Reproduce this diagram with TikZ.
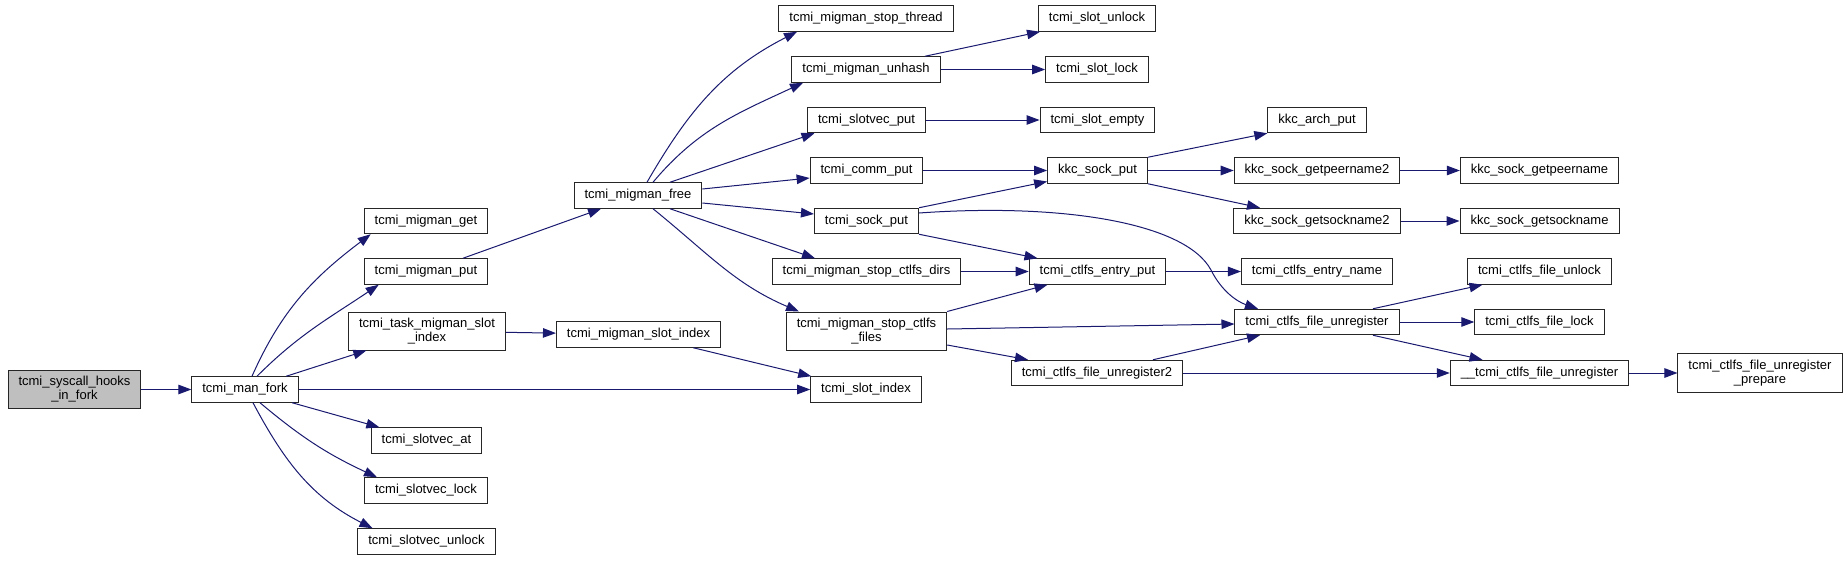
\documentclass[tikz,border=0pt]{standalone}
\usepackage{fontspec}
\setmainfont{Liberation Sans}
\usetikzlibrary{arrows.meta}
\definecolor{edgeblue}{HTML}{191970}
\definecolor{rootgray}{HTML}{BFBFBF}
\tikzset{
  fn/.style={draw=black!85, line width=1pt, fill=white, align=center, font=\fontsize{13}{14}\selectfont, inner xsep=10.5pt, inner ysep=6pt, minimum height=25.5pt},
  root/.style={fn, fill=rootgray},
  call/.style={-{Triangle[length=13pt,width=9.5pt]}, draw=edgeblue, line width=1pt}}

\begin{document}
\begin{tikzpicture}[x=1pt, y=-1pt]
  \useasboundingbox (0,0) rectangle (1848,560);
  % columns of the call graph
  \node[root] (hooks) at (74.5,389.5) {tcmi\_syscall\_hooks\\\_in\_fork};
  \node[fn] (fork) at (245,389.5) {tcmi\_man\_fork};
  \node[fn] (mget) at (426,221) {tcmi\_migman\_get};
  \node[fn] (mput) at (426,271.5) {tcmi\_migman\_put};
  \node[fn] (taskslot) at (427,331) {tcmi\_task\_migman\_slot\\\_index};
  \node[fn] (vat) at (426.5,440.5) {tcmi\_slotvec\_at};
  \node[fn] (vlock) at (426,490.5) {tcmi\_slotvec\_lock};
  \node[fn] (vunlock) at (426.5,541.5) {tcmi\_slotvec\_unlock};
  \node[fn] (mfree) at (638,195.5) {tcmi\_migman\_free};
  \node[fn] (mslot) at (638.5,334.5) {tcmi\_migman\_slot\_index};
  \node[fn] (sthread) at (866,18.5) {tcmi\_migman\_stop\_thread};
  \node[fn] (unhash) at (866,69.5) {tcmi\_migman\_unhash};
  \node[fn] (vput) at (866.5,120) {tcmi\_slotvec\_put};
  \node[fn] (cput) at (866.5,170.5) {tcmi\_comm\_put};
  \node[fn] (sput) at (866.5,221) {tcmi\_sock\_put};
  \node[fn] (sdirs) at (866.5,271.5) {tcmi\_migman\_stop\_ctlfs\_dirs};
  \node[fn] (sfiles) at (866.5,331) {tcmi\_migman\_stop\_ctlfs\\\_files};
  \node[fn] (sidx) at (866,389.5) {tcmi\_slot\_index};
  \node[fn] (sunlock) at (1097,18.5) {tcmi\_slot\_unlock};
  \node[fn] (slock) at (1097,69.5) {tcmi\_slot\_lock};
  \node[fn] (sempty) at (1097.5,120) {tcmi\_slot\_empty};
  \node[fn] (kput) at (1097.5,170.5) {kkc\_sock\_put};
  \node[fn] (eput) at (1097.5,271.5) {tcmi\_ctlfs\_entry\_put};
  \node[fn] (unreg2) at (1097,373) {tcmi\_ctlfs\_file\_unregister2};
  \node[fn] (aput) at (1317,120) {kkc\_arch\_put};
  \node[fn] (peer2) at (1317,170.5) {kkc\_sock\_getpeername2};
  \node[fn] (sock2) at (1317,221) {kkc\_sock\_getsockname2};
  \node[fn] (ename) at (1317,271.5) {tcmi\_ctlfs\_entry\_name};
  \node[fn] (unreg) at (1317,322) {tcmi\_ctlfs\_file\_unregister};
  \node[fn] (peer) at (1539.5,170.5) {kkc\_sock\_getpeername};
  \node[fn] (sock) at (1539.5,221) {kkc\_sock\_getsockname};
  \node[fn] (funlock) at (1539.5,271.5) {tcmi\_ctlfs\_file\_unlock};
  \node[fn] (flock) at (1539.5,322) {tcmi\_ctlfs\_file\_lock};
  \node[fn] (uunreg) at (1539.5,373) {\_\_tcmi\_ctlfs\_file\_unregister};
  \node[fn] (prep) at (1760,373) {tcmi\_ctlfs\_file\_unregister\\\_prepare};

  % calls out of tcmi_man_fork
  \draw[call] (hooks) -- (fork);
  \draw[call] ([xshift=7pt]fork.north) to[out=66,in=217] ([xshift=7pt]mget.south west);
  \draw[call] ([xshift=12pt]fork.north) to[out=45,in=214] ([xshift=15pt]mput.south west);
  \draw[call] (fork) -- (taskslot);
  \draw[call] (fork) -- (sidx);
  \draw[call] (fork) -- (vat);
  \draw[call] ([xshift=15pt]fork.south) to[out=-40,in=155] ([xshift=-49pt]vlock.north);
  \draw[call] ([xshift=8pt]fork.south) to[out=-62,in=153] ([xshift=-54pt]vunlock.north);
  \draw[call] (mput) -- (mfree);
  \draw[call] (taskslot) -- (mslot);
  \draw[call] (mslot) -- (sidx);

  % calls out of tcmi_migman_free
  \draw[call] ([xshift=9pt]mfree.north) to[out=60,in=207] ([xshift=-69pt]sthread.south);
  \draw[call] ([xshift=15pt]mfree.north) to[out=50,in=205] ([xshift=-63pt]unhash.south);
  \draw[call] ([xshift=32pt]mfree.north) -- ([xshift=-52pt]vput.south);
  \draw[call] ([yshift=6.5pt]mfree.east) -- ([yshift=-7.5pt]cput.west);
  \draw[call] ([yshift=-7.5pt]mfree.east) -- ([yshift=7pt]sput.west);
  \draw[call] ([xshift=32pt]mfree.south) -- ([xshift=-51.5pt]sdirs.north);
  \draw[call] ([xshift=15pt]mfree.south) to[out=-39,in=157] ([xshift=-67.5pt]sfiles.north);

  \draw[call] ([xshift=59pt]unhash.north) -- ([xshift=-57pt]sunlock.south);
  \draw[call] (unhash) -- (slock);
  \draw[call] (vput) -- (sempty);
  \draw[call] (cput) -- (kput);
  \draw[call] (sput.north east) -- ([yshift=-11pt]kput.west);
  \draw[call] (sput.south east) -- ([xshift=-60pt]eput.north);
  \draw[call] ([yshift=8pt]sput.east) .. controls (1060,203) and (1185,222) .. (1211,270)
    .. controls (1222,292) and (1238,302) .. ([xshift=-59pt]unreg.north);
  \draw[call] (sdirs) -- (eput);
  \draw[call] (sfiles.north east) -- ([xshift=-50pt]eput.south);
  \draw[call] ([yshift=2pt]sfiles.east) -- ([yshift=-2pt]unreg.west);
  \draw[call] ([yshift=-14pt]sfiles.east) -- ([xshift=-69pt]unreg2.north);
  \draw[call] (eput) -- (ename);
  \draw[call] ([xshift=56pt]unreg2.north) -- ([xshift=-57pt]unreg.south);
  \draw[call] (unreg2) -- (uunreg);

  % kkc sockets and ctlfs files
  \draw[call] (kput.north east) -- (aput.south west);
  \draw[call] (kput) -- (peer2);
  \draw[call] (kput.south east) -- ([xshift=-57pt]sock2.north);
  \draw[call] (peer2) -- (peer);
  \draw[call] (sock2) -- (sock);
  \draw[call] ([xshift=56pt]unreg.north) -- ([xshift=-57pt]funlock.south);
  \draw[call] (unreg) -- (flock);
  \draw[call] ([xshift=56pt]unreg.south) -- ([xshift=-57pt]uunreg.north);
  \draw[call] (uunreg) -- (prep);
\end{tikzpicture}
\end{document}
